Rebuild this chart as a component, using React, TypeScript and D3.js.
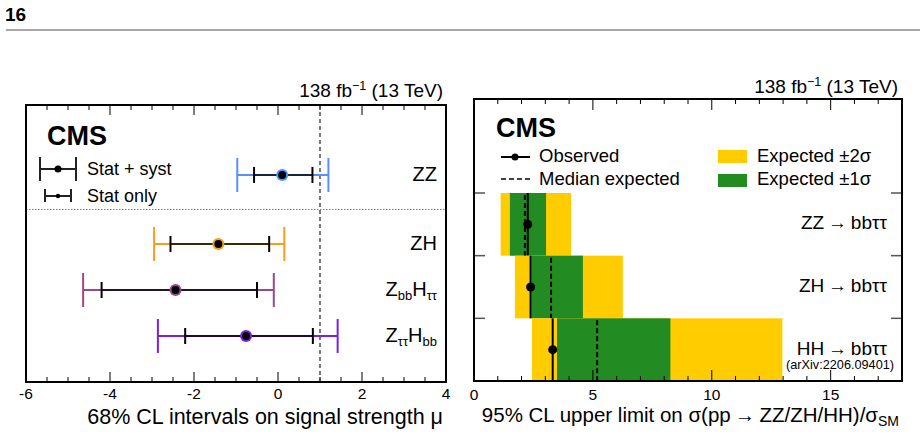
import React from 'react';
import * as d3 from 'd3';

// left panel: 68% CL intervals on signal strength
const fitLabels = ['ZZ', 'ZH', 'ZbbHtt', 'ZttHbb'];
const fitCentral = [0.10, -1.42, -2.44, -0.76];
const fitTotalLo = [-0.97, -2.95, -4.64, -2.86];
const fitTotalHi = [1.20, 0.15, -0.10, 1.42];
const fitStatLo = [-0.57, -2.56, -4.20, -2.21];
const fitStatHi = [0.82, -0.21, -0.50, 0.83];
const fitColors = ['#5790fc', '#f89c20', '#964a8b', '#7a21dd'];
const muTicks = [-6, -4, -2, 0, 2, 4];

// right panel: 95% CL upper limits
const limLabels = ['ZZ', 'ZH', 'HH'];
const limObserved = [2.26, 2.38, 3.31];
const limMedian = [2.14, 3.24, 5.18];
const lim1Lo = [1.51, 2.42, 3.49];
const lim1Hi = [3.03, 4.58, 8.26];
const lim2Lo = [1.12, 1.72, 2.44];
const lim2Hi = [4.08, 6.26, 12.97];
const limTicks = [0, 5, 10, 15];

const FONT = '"Liberation Sans", Arial, Helvetica, sans-serif';

const Lumi = ({ x, y }: { x: number; y: number }) => (
  <text x={x} y={y} textAnchor="end" fontSize={19}>
    138 fb<tspan dy={-7} fontSize={12.5}>−1</tspan><tspan dy={7}> (13 TeV)</tspan>
  </text>
);

const Sub = ({ t }: { t: string }) => <tspan fontSize={13} dy={4}>{t}</tspan>;

const LeftLabel = ({ name, x, y }: { name: string; x: number; y: number }) => {
  if (name === 'ZbbHtt')
    return (
      <text x={x} y={y} textAnchor="end" fontSize={20}>
        Z<Sub t="bb" /><tspan dy={-4}>H</tspan><Sub t="ττ" />
      </text>
    );
  if (name === 'ZttHbb')
    return (
      <text x={x} y={y} textAnchor="end" fontSize={20}>
        Z<Sub t="ττ" /><tspan dy={-4}>H</tspan><Sub t="bb" />
      </text>
    );
  return <text x={x} y={y} textAnchor="end" fontSize={20}>{name}</text>;
};

export default function App() {
  // left frame
  const L = { x0: 26, x1: 446, y0: 105, y1: 382 };
  const xL = d3.scaleLinear().domain([-6, 4]).range([L.x0, L.x1]);
  const yL = d3.scaleLinear().domain([0, 6.02]).range([L.y1, L.y0]);
  // row index -> position; ZZ sits above a separator
  const rowL = (i: number) => (i === 0 ? 4.5 : 4 - i);
  const minorL = d3.range(-6, 4.001, 0.5);

  // right frame
  const R = { x0: 474, x1: 902, y0: 99, y1: 381 };
  const xR = d3.scaleLinear().domain([0, 18]).range([R.x0, R.x1]);
  const yR = d3.scaleLinear().domain([0, 4.5]).range([R.y1, R.y0]);
  const rowR = (i: number) => 2 - i; // bottom of row
  const minorR = d3.range(0, 18.001, 1);

  return (
    <div style={{ position: 'fixed', left: 0, top: 0 }}>
      <svg width={920} height={436} style={{ display: 'block', fontFamily: FONT }}>
        <rect width={920} height={436} fill="#fff" />
        <text x={5} y={21} fontSize={19} fontWeight="bold">16</text>
        <line x1={6} x2={920} y1={30} y2={30} stroke="#555" strokeWidth={1.2} />

        {/* ---------- left panel ---------- */}
        <Lumi x={443} y={97} />
        {minorL.map(t => {
          const major = Math.abs(t % 2) < 1e-6;
          const len = major ? 10 : 5;
          return (
            <g key={'lt' + t} stroke="#000" strokeWidth={1}>
              <line x1={xL(t)} x2={xL(t)} y1={L.y1} y2={L.y1 - len} />
              <line x1={xL(t)} x2={xL(t)} y1={L.y0} y2={L.y0 + len} />
            </g>
          );
        })}
        {muTicks.map(t => (
          <text key={'ll' + t} x={xL(t)} y={399} textAnchor="middle" fontSize={15.5}>{t < 0 ? '-' + Math.abs(t) : t}</text>
        ))}
        <text x={443} y={424} textAnchor="end" fontSize={21.5}>68% CL intervals on signal strength μ</text>

        <line x1={xL(1)} x2={xL(1)} y1={L.y0} y2={L.y1} stroke="#333" strokeWidth={1.3} strokeDasharray="4,3" />
        <line x1={L.x0} x2={L.x1} y1={yL(3.75)} y2={yL(3.75)} stroke="#777" strokeWidth={1} strokeDasharray="1.5,1.5" />

        {fitLabels.map((name, i) => {
          const y = yL(rowL(i));
          const c = fitColors[i];
          return (
            <g key={name}>
              <line x1={xL(fitTotalLo[i])} x2={xL(fitTotalHi[i])} y1={y} y2={y} stroke={c} strokeWidth={2} />
              <line x1={xL(fitTotalLo[i])} x2={xL(fitTotalLo[i])} y1={y - 17} y2={y + 17} stroke={c} strokeWidth={2} />
              <line x1={xL(fitTotalHi[i])} x2={xL(fitTotalHi[i])} y1={y - 17} y2={y + 17} stroke={c} strokeWidth={2} />
              <line x1={xL(fitStatLo[i])} x2={xL(fitStatHi[i])} y1={y} y2={y} stroke="#000" strokeOpacity={0.75} strokeWidth={2} />
              <line x1={xL(fitStatLo[i])} x2={xL(fitStatLo[i])} y1={y - 8} y2={y + 8} stroke="#000" strokeWidth={2} />
              <line x1={xL(fitStatHi[i])} x2={xL(fitStatHi[i])} y1={y - 8} y2={y + 8} stroke="#000" strokeWidth={2} />
              <circle cx={xL(fitCentral[i])} cy={y} r={6} fill={c} />
              <circle cx={xL(fitCentral[i])} cy={y} r={4} fill="#000" />
              <LeftLabel name={name} x={437} y={y + 6} />
            </g>
          );
        })}

        <text x={47} y={145} fontSize={27} fontWeight="bold">CMS</text>
        <g stroke="#222" strokeWidth={2}>
          <line x1={40} x2={76} y1={169} y2={169} />
          <line x1={40} x2={40} y1={157} y2={181} />
          <line x1={76} x2={76} y1={157} y2={181} />
          <line x1={45} x2={71} y1={196} y2={196} />
          <line x1={45} x2={45} y1={189} y2={202} />
          <line x1={71} x2={71} y1={189} y2={202} />
        </g>
        <circle cx={58} cy={169} r={3.5} fill="#000" />
        <circle cx={58} cy={196} r={2.2} fill="#000" />
        <text x={87} y={175} fontSize={18}>Stat + syst</text>
        <text x={87} y={202} fontSize={18}>Stat only</text>

        <rect x={L.x0} y={L.y0} width={L.x1 - L.x0} height={L.y1 - L.y0} fill="none" stroke="#000" strokeWidth={2} />

        {/* ---------- right panel ---------- */}
        <Lumi x={898} y={93} />
        {limLabels.map((name, i) => {
          const yb = yR(rowR(i));
          const yt = yR(rowR(i) + 1);
          const ym = (yb + yt) / 2;
          return (
            <g key={'lim' + name}>
              <rect x={xR(lim2Lo[i])} y={yt} width={xR(lim2Hi[i]) - xR(lim2Lo[i])} height={yb - yt} fill="#ffcc00" />
              <rect x={xR(lim1Lo[i])} y={yt} width={xR(lim1Hi[i]) - xR(lim1Lo[i])} height={yb - yt} fill="#228b22" />
              <line x1={xR(limMedian[i])} x2={xR(limMedian[i])} y1={yt + 2} y2={yb} stroke="#000" strokeWidth={2} strokeDasharray="5,3" />
              <line x1={xR(limObserved[i])} x2={xR(limObserved[i])} y1={yt} y2={yb} stroke="#000" strokeWidth={2} />
              <circle cx={xR(limObserved[i])} cy={ym} r={4.5} fill="#000" />
              <text x={887} y={ym + 5} textAnchor="end" fontSize={19}>{name}{'\u2009→\u2009'}bbττ</text>
            </g>
          );
        })}
        <text x={894} y={369} textAnchor="end" fontSize={12.7}>(arXiv:2206.09401)</text>

        {minorR.map(t => {
          const major = t % 5 === 0;
          const len = major ? 11 : 5;
          return (
            <g key={'rt' + t} stroke="#000" strokeWidth={1}>
              <line x1={xR(t)} x2={xR(t)} y1={R.y1} y2={R.y1 - len} />
              <line x1={xR(t)} x2={xR(t)} y1={R.y0} y2={R.y0 + len} />
            </g>
          );
        })}
        {[1, 2, 3].map(t => (
          <g key={'ry' + t} stroke="#555" strokeWidth={1.5}>
            <line x1={R.x0} x2={R.x0 + 11} y1={yR(t)} y2={yR(t)} />
            <line x1={R.x1} x2={R.x1 - 11} y1={yR(t)} y2={yR(t)} />
          </g>
        ))}
        {limTicks.map(t => (
          <text key={'rl' + t} x={xR(t)} y={400} textAnchor="middle" fontSize={15.5}>{t}</text>
        ))}
        <text x={899} y={422} textAnchor="end" fontSize={20.5}>
          95% CL upper limit on σ(pp{'\u2009→\u2009'}ZZ/ZH/HH)/σ<tspan fontSize={14} dy={4}>SM</tspan>
        </text>

        <text x={496} y={137} fontSize={27} fontWeight="bold">CMS</text>
        <line x1={501} x2={530} y1={157} y2={157} stroke="#000" strokeWidth={2} />
        <circle cx={515} cy={157} r={3.5} fill="#000" />
        <text x={539} y={162} fontSize={18.5}>Observed</text>
        <line x1={501} x2={530} y1={179} y2={179} stroke="#000" strokeWidth={1.5} strokeDasharray="5,3" />
        <text x={539} y={185} fontSize={18.5}>Median expected</text>
        <rect x={718} y={150} width={29} height={13} fill="#ffcc00" />
        <text x={757} y={162} fontSize={18.5}>Expected ±2σ</text>
        <rect x={718} y={174} width={29} height={13} fill="#228b22" />
        <text x={757} y={185} fontSize={18.5}>Expected ±1σ</text>

        <rect x={R.x0} y={R.y0} width={R.x1 - R.x0} height={R.y1 - R.y0} fill="none" stroke="#000" strokeWidth={2} />
      </svg>
    </div>
  );
}
